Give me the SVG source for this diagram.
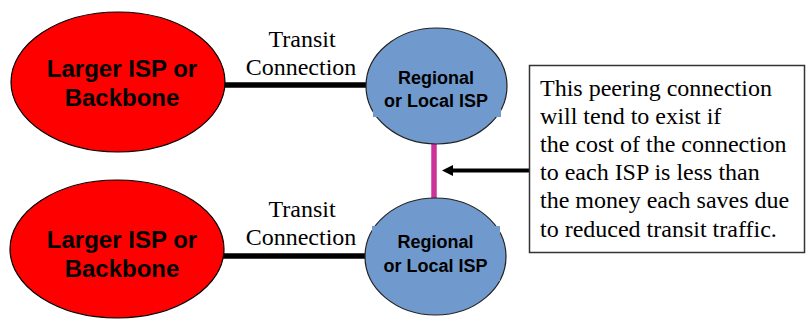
<svg xmlns="http://www.w3.org/2000/svg" width="809" height="320" viewBox="0 0 809 320">
<defs>
<style>
.big{fill:#FF0000;stroke:#000;stroke-width:1.2}
.reg{fill:#709ACD;stroke:#222;stroke-width:1.2}
.regbox{fill:#709ACD;stroke:none}
.bl{font-family:"Liberation Sans",Arial,sans-serif;font-weight:bold;font-size:24px;fill:#000;text-anchor:middle}
.rl{font-family:"Liberation Sans",Arial,sans-serif;font-weight:bold;font-size:18px;fill:#000;text-anchor:middle}
.tl{font-family:"Liberation Serif","Times New Roman",serif;font-size:24px;fill:#000}
.transit{stroke:#000;stroke-width:5.5;fill:none}
.peer{stroke:#CC3399;stroke-width:5.5;fill:none}
.arrow{stroke:#000;stroke-width:4;fill:none}
</style>
<marker id="ah" markerUnits="userSpaceOnUse" markerWidth="12" markerHeight="12" viewBox="0 0 12 12" refX="1" refY="6" orient="auto">
<path d="M0,0.5 L11,6 L0,11.5 Z" fill="#000"/>
</marker>
</defs>
<rect width="809" height="320" fill="#fff"/>
<g id="connectors">
<line class="transit" x1="224" y1="85" x2="367" y2="85"/>
<line class="transit" x1="223" y1="256" x2="366" y2="256"/>
<line class="peer" x1="434" y1="143" x2="434" y2="199"/>
<line class="arrow" x1="530" y1="170.5" x2="452" y2="170.5" marker-end="url(#ah)"/>
<text class="tl" x="302" y="47" text-anchor="middle">Transit</text>
<text class="tl" x="301" y="75" text-anchor="middle">Connection</text>
<text class="tl" x="302" y="217" text-anchor="middle">Transit</text>
<text class="tl" x="301" y="245" text-anchor="middle">Connection</text>
</g>
<g id="larger1">
<ellipse class="big" cx="118" cy="82" rx="107" ry="70"/>
<text class="bl" x="122" y="77">Larger ISP or</text>
<text class="bl" x="122" y="106">Backbone</text>
</g>
<g id="larger2">
<ellipse class="big" cx="117" cy="249" rx="107" ry="69"/>
<text class="bl" x="122" y="248">Larger ISP or</text>
<text class="bl" x="122" y="277">Backbone</text>
</g>
<g id="regional1">
<ellipse class="reg" cx="436.5" cy="86" rx="70.5" ry="58"/>
<rect class="regbox" x="373" y="62" width="128" height="55"/>
<text class="rl" x="436" y="84">Regional</text>
<text class="rl" x="436" y="107">or Local ISP</text>
</g>
<g id="regional2">
<ellipse class="reg" cx="435.5" cy="256.5" rx="70.5" ry="58.5"/>
<rect class="regbox" x="372" y="226" width="128" height="55"/>
<text class="rl" x="435.5" y="248">Regional</text>
<text class="rl" x="435.5" y="272">or Local ISP</text>
</g>
<g id="note">
<rect x="529.5" y="65.5" width="275" height="187" fill="#fff" stroke="#333" stroke-width="1.5"/>
<text class="tl" x="540" y="96">This peering connection</text>
<text class="tl" x="540" y="124">will tend to exist if</text>
<text class="tl" x="540" y="152">the cost of the connection</text>
<text class="tl" x="540" y="180">to each ISP is less than</text>
<text class="tl" x="540" y="208">the money each saves due</text>
<text class="tl" x="540" y="237">to reduced transit traffic.</text>
</g>
</svg>
